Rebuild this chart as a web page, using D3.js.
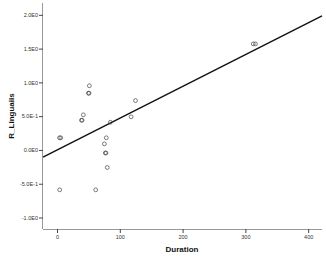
<!DOCTYPE html>
<html>
<head>
<meta charset="utf-8">
<script src="https://cdn.jsdelivr.net/npm/d3@7"></script>
<style>
  body { margin: 0; background: #fff; }
  .tick text { font-family: "Liberation Sans", Arial, sans-serif; font-size: 5.5px; fill: #333; }
  .title { font-family: "Liberation Sans", Arial, sans-serif; font-size: 8px; font-weight: bold; fill: #111; }
</style>
</head>
<body>
<div id="chart"></div>
<script>
// Duration vs R_Linguaiis
const duration = [4, 6, 51.5, 50, 51, 42, 39, 40, 85, 125, 118, 78.5, 75.5, 77, 78, 80, 4.3, 61.6, 312.5, 316];
const linguaiis = [0.18, 0.18, 0.95, 0.84, 0.84, 0.52, 0.44, 0.44, 0.41, 0.73, 0.49, 0.18, 0.09, -0.045, -0.045, -0.26, -0.59, -0.59, 1.57, 1.57];
const fitIntercept = 0.0;
const fitSlope = 0.0047;
const yTicks = [-1, -0.5, 0, 0.5, 1, 1.5, 2];
const yTickLabels = ["-1.0E0", "-5.0E-1", "0.0E0", "5.0E-1", "1.0E0", "1.5E0", "2.0E0"];
const xTicks = [0, 100, 200, 300, 400];

const width = 326, height = 275;
const plotLeft = 43, plotRight = 322, plotTop = 3, plotBottom = 229;

const svg = d3.select("#chart").append("svg")
    .attr("width", width)
    .attr("height", height);

const x = d3.scaleLinear().domain([-22.3, 422]).range([plotLeft, plotRight]);
const y = d3.scaleLinear().domain([-1.17, 2.175]).range([plotBottom, plotTop]);

// axes
const xAxis = svg.append("g")
    .attr("transform", "translate(0," + plotBottom + ")")
    .call(d3.axisBottom(x).tickValues(xTicks).tickSize(4).tickPadding(2).tickFormat(d3.format("d")));
xAxis.select(".domain").attr("stroke", "#999").attr("d", "M" + plotLeft + ",0.5H" + plotRight);
xAxis.selectAll(".tick line").attr("stroke", "#444");

const yAxis = svg.append("g")
    .attr("transform", "translate(" + plotLeft + ",0)")
    .call(d3.axisLeft(y).tickValues(yTicks).tickSize(4).tickPadding(1)
        .tickFormat((d, i) => yTickLabels[i]));
yAxis.select(".domain").attr("stroke", "#999").attr("d", "M-0.5," + plotTop + "V" + plotBottom);
yAxis.selectAll(".tick line").attr("stroke", "#444");

// fit line
const xs = x.domain();
svg.append("line")
    .attr("x1", x(xs[0])).attr("y1", y(fitIntercept + fitSlope * xs[0]))
    .attr("x2", x(xs[1])).attr("y2", y(fitIntercept + fitSlope * xs[1]))
    .attr("stroke", "#111")
    .attr("stroke-width", 1.4);

// points
svg.append("g")
    .selectAll("circle")
    .data(duration)
    .enter()
    .append("circle")
    .attr("cx", d => x(d))
    .attr("cy", (d, i) => y(linguaiis[i]))
    .attr("r", 1.9)
    .attr("fill", "none")
    .attr("stroke", "#444")
    .attr("stroke-width", 0.7);

// titles
svg.append("text")
    .attr("class", "title")
    .attr("x", 182).attr("y", 252)
    .attr("text-anchor", "middle")
    .text("Duration");

svg.append("text")
    .attr("class", "title")
    .attr("transform", "translate(14,116) rotate(-90)")
    .attr("text-anchor", "middle")
    .text("R_Linguaiis");
</script>
</body>
</html>
